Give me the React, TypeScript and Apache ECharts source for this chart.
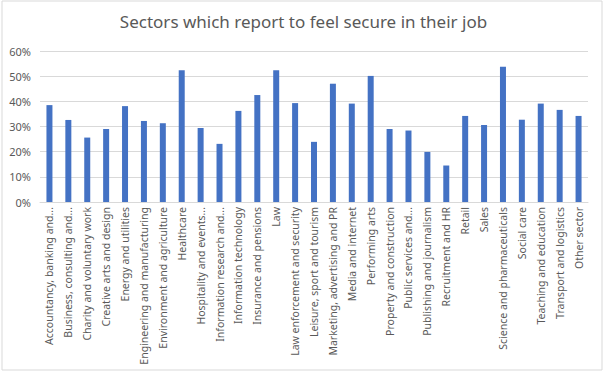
import React, { useEffect, useRef } from "react";
import * as echarts from "echarts";

const title = "Sectors which report to feel secure in their job";

const categories = [
  "Accountancy, banking and...",
  "Business, consulting and...",
  "Charity and voluntary work",
  "Creative arts and design",
  "Energy and utilities",
  "Engineering and manufacturing",
  "Environment and agriculture",
  "Healthcare",
  "Hospitality and events...",
  "Information research and...",
  "Information technology",
  "Insurance and pensions",
  "Law",
  "Law enforcement and security",
  "Leisure, sport and tourism",
  "Marketing, advertising and PR",
  "Media and internet",
  "Performing arts",
  "Property and construction",
  "Public services and...",
  "Publishing and journalism",
  "Recruitment and HR",
  "Retail",
  "Sales",
  "Science and pharmaceuticals",
  "Social care",
  "Teaching and education",
  "Transport and logistics",
  "Other sector",
];

const secureShare = [
  38.5, 32.6, 25.6, 29.0, 38.1, 32.2, 31.3, 52.4, 29.4, 23.1, 36.2, 42.5, 52.4, 39.3,
  23.9, 47.0, 39.1, 50.1, 29.0, 28.4, 19.9, 14.5, 34.2, 30.6, 53.7, 32.7, 39.1, 36.6, 34.2,
];

const yTicks = { min: 0, max: 60, interval: 10 };

export default function App() {
  const ref = useRef<HTMLDivElement>(null);
  useEffect(() => {
    if (!ref.current) return;
    const chart = echarts.init(ref.current, undefined, { renderer: "svg" });
    const font = "'Noto Sans', 'Open Sans', sans-serif";
    chart.setOption({
      animation: false,
      backgroundColor: "#ffffff",
      title: {
        text: title,
        left: "center",
        top: 8,
        textStyle: {
          fontFamily: font,
          fontSize: 17,
          fontWeight: "normal",
          color: "#595959",
        },
      },
      graphic: [
        {
          type: "rect",
          shape: { x: 2, y: 1, width: 600, height: 369 },
          style: { fill: "none", stroke: "#d9d9d9", lineWidth: 1 },
          silent: true,
        },
      ],
      grid: { left: 40, right: 19, top: 51, bottom: 171 },
      xAxis: {
        type: "category",
        data: categories,
        axisLine: { lineStyle: { color: "#d9d9d9" } },
        axisTick: { show: false },
        axisLabel: {
          interval: 0,
          rotate: 90,
          margin: 5,
          fontFamily: font,
          fontSize: 10.5,
          color: "#595959",
        },
      },
      yAxis: {
        type: "value",
        min: yTicks.min,
        max: yTicks.max,
        interval: yTicks.interval,
        axisLine: { show: false },
        axisTick: { show: false },
        splitLine: { lineStyle: { color: "#d9d9d9" } },
        axisLabel: {
          formatter: "{value}%",
          margin: 9,
          fontFamily: font,
          fontSize: 11,
          color: "#595959",
        },
      },
      series: [
        {
          type: "bar",
          data: secureShare,
          barWidth: 6,
          itemStyle: { color: "#4472C4" },
        },
      ],
    });
    return () => chart.dispose();
  }, []);
  return (
    <div
      ref={ref}
      style={{ position: "fixed", left: 0, top: 0, width: 607, height: 373 }}
    />
  );
}
